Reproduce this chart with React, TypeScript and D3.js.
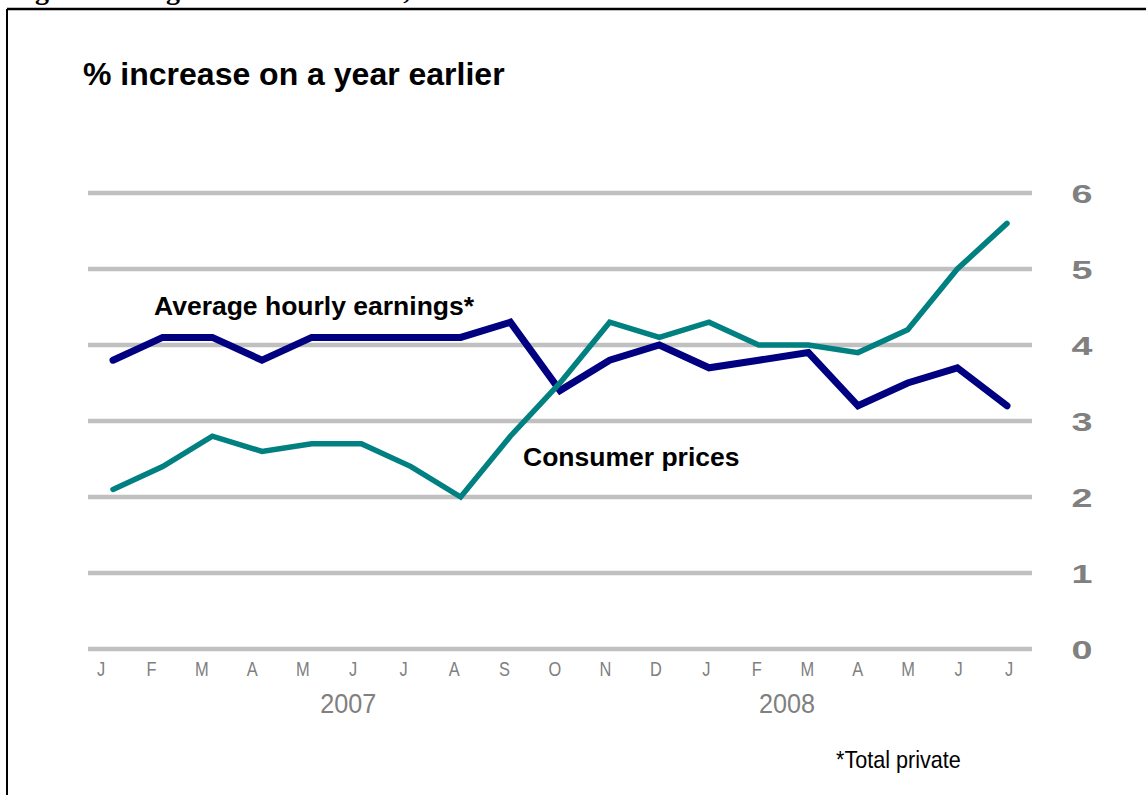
import React from "react";
import * as d3 from "d3";

const months = ["J", "F", "M", "A", "M", "J", "J", "A", "S", "O", "N", "D", "J", "F", "M", "A", "M", "J", "J"];
const yearLabels = ["2007", "2008"];
const yearLabelAt = [4.9, 13.6]; // position in month-index units
const earnings = [3.8, 4.1, 4.1, 3.8, 4.1, 4.1, 4.1, 4.1, 4.3, 3.4, 3.8, 4.0, 3.7, 3.8, 3.9, 3.2, 3.5, 3.7, 3.2];
const consumerPrices = [2.1, 2.4, 2.8, 2.6, 2.7, 2.7, 2.4, 2.0, 2.8, 3.5, 4.3, 4.1, 4.3, 4.0, 4.0, 3.9, 4.2, 5.0, 5.6];
const yTicks = [0, 1, 2, 3, 4, 5, 6];

const W = 1146;
const H = 795;

export default function App() {
  const idx = months.map((_, i) => i);
  const x = d3.scaleLinear().domain([0, months.length - 1]).range([113, 1007]);
  const xLabel = d3.scaleLinear().domain([0, months.length - 1]).range([101, 1009]);
  const y = d3.scaleLinear().domain([0, 6]).range([649, 193]);

  const line = d3
    .line<number>()
    .x((_, i) => x(i))
    .y((d) => y(d));

  const sans = "'Liberation Sans', Arial, Helvetica, sans-serif";

  return (
    <svg
      width={W}
      height={H}
      style={{ position: "absolute", left: 0, top: 0, background: "#fff" }}
    >
      <rect x={0} y={0} width={W} height={H} fill="#fff" />
      {/* cut-off document caption */}
      <text x={10} y={-1.5} fontFamily="'Liberation Serif', 'Times New Roman', serif" fontWeight="bold" fontSize={28} fill="#000">
        Figure 1: Wage and Price Trends, 2007–2008
      </text>
      {/* frame */}
      <line x1={7} y1={9} x2={W} y2={9} stroke="#000" strokeWidth={2.5} />
      <line x1={7} y1={9} x2={7} y2={H} stroke="#000" strokeWidth={2} />

      {/* title */}
      <text x={83} y={85} fontFamily={sans} fontWeight="bold" fontSize={32} fill="#000">
        % increase on a year earlier
      </text>

      {/* gridlines */}
      {yTicks.map((t) => (
        <g key={t}>
          <line x1={88} x2={1032} y1={y(t)} y2={y(t)} stroke="#c0c0c0" strokeWidth={4.5} />
          <text
            transform={`translate(1082,${y(t) + 9.5}) scale(1.45,1)`}
            textAnchor="middle"
            fontFamily={sans}
            fontWeight="bold"
            fontSize={26}
            fill="#808080"
          >
            {t}
          </text>
        </g>
      ))}

      {/* month labels */}
      {idx.map((i) => (
        <text
          key={i}
          transform={`translate(${xLabel(i)},676) scale(0.8,1)`}
          textAnchor="middle"
          fontFamily={sans}
          fontSize={20.5}
          fill="#808080"
        >
          {months[i]}
        </text>
      ))}
      {yearLabels.map((lbl, k) => (
        <text
          key={lbl}
          transform={`translate(${xLabel(yearLabelAt[k])},713) scale(0.9,1)`}
          textAnchor="middle"
          fontFamily={sans}
          fontSize={28}
          fill="#808080"
        >
          {lbl}
        </text>
      ))}

      {/* series */}
      <path
        d={line(earnings) || ""}
        fill="none"
        stroke="#000080"
        strokeWidth={7}
        strokeLinejoin="miter"
        strokeLinecap="round"
      />
      <path
        d={line(consumerPrices) || ""}
        fill="none"
        stroke="#008080"
        strokeWidth={5.5}
        strokeLinejoin="miter"
        strokeLinecap="round"
      />

      {/* series labels */}
      <text x={154} y={315} fontFamily={sans} fontWeight="bold" fontSize={26.5} fill="#000">
        Average hourly earnings*
      </text>
      <text x={523} y={466} fontFamily={sans} fontWeight="bold" fontSize={26.5} fill="#000">
        Consumer prices
      </text>

      {/* footnote */}
      <text transform="translate(836,768) scale(0.9,1)" fontFamily={sans} fontSize={24} fill="#000">
        *Total private
      </text>
    </svg>
  );
}
